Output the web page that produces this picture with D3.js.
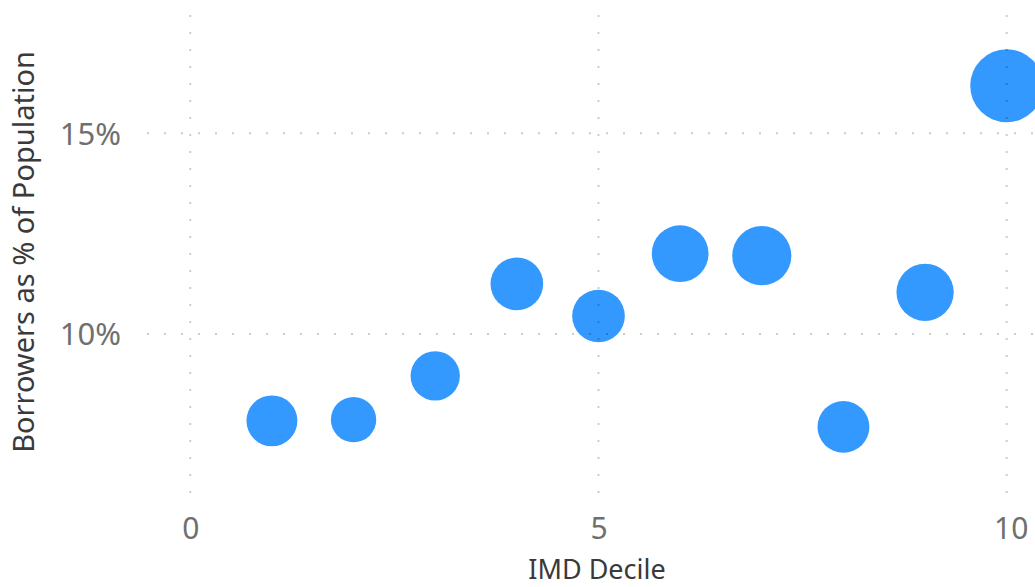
<!DOCTYPE html>
<html>
<head>
<meta charset="utf-8">
<script src="https://cdn.jsdelivr.net/npm/d3@7"></script>
<style>
  html, body { margin: 0; padding: 0; background: #ffffff; }
  svg { display: block; }
  text { font-family: "Noto Sans", "Open Sans", sans-serif; }
</style>
</head>
<body>
<svg id="chart" width="1035" height="587"></svg>
<script>
// ---- data ----
const deciles = [1, 2, 3, 4, 5, 6, 7, 8, 9, 10];
const borrowerShare = [0.0784, 0.0787, 0.0896, 0.1125, 0.1045, 0.1200, 0.1195, 0.0769, 0.1104, 0.1618];
const bubbleSize = [666, 529, 625, 713, 713, 829, 900, 692, 841, 1369];
const xTicks = [0, 5, 10];
const yTicks = [0.10, 0.15];
const xTitle = "IMD Decile";
const yTitle = "Borrowers as % of Population";

const W = 1035, H = 587;
const plot = { left: 147, right: 1050, top: 15, bottom: 494 };

const svg = d3.select("#chart");

const x = d3.scaleLinear().domain([-0.53, 10.53]).range([plot.left, plot.right]);
const y = d3.scaleLinear().domain([0.0602, 0.1794]).range([plot.bottom, plot.top]);
const r = d3.scaleSqrt().domain([0, d3.max(bubbleSize)]).range([0, 36.5]);

const points = deciles.map((d, i) => ({ x: d, y: borrowerShare[i], s: bubbleSize[i] }));

// bubbles
svg.append("g").selectAll("circle")
  .data(points)
  .join("circle")
  .attr("cx", d => x(d.x))
  .attr("cy", d => y(d.y))
  .attr("r", d => r(d.s))
  .attr("fill", "#3399ff");

// gridlines (drawn on top, faint dotted)
const grid = svg.append("g")
  .attr("stroke", "#000")
  .attr("stroke-opacity", 0.2)
  .attr("stroke-width", 2)
  .attr("stroke-dasharray", "2 15");

grid.selectAll("line.v")
  .data(xTicks)
  .join("line")
  .attr("class", "v")
  .attr("x1", d => x(d)).attr("x2", d => x(d))
  .attr("y1", plot.top).attr("y2", plot.bottom);

grid.selectAll("line.h")
  .data(yTicks)
  .join("line")
  .attr("class", "h")
  .attr("x1", plot.left).attr("x2", W)
  .attr("y1", d => y(d)).attr("y2", d => y(d));

// axes (tick labels only)
const xAxis = d3.axisBottom(x).tickValues(xTicks).tickSize(0).tickPadding(0).tickFormat(d3.format("d"));
const gx = svg.append("g").attr("transform", `translate(0,${plot.bottom + 45})`).call(xAxis);
gx.select(".domain").remove();
gx.selectAll("text")
  .attr("dy", 0)
  .attr("fill", "#6f6f6f")
  .style("font-size", "30px")
  .style("font-family", "'Noto Sans', 'Open Sans', sans-serif");
gx.selectAll(".tick").filter(d => d === 10).select("text").attr("dx", 4);

const yAxis = d3.axisLeft(y).tickValues(yTicks).tickSize(0).tickPadding(0).tickFormat(d3.format(".0%"));
const gy = svg.append("g").attr("transform", `translate(121,0)`).call(yAxis);
gy.select(".domain").remove();
gy.selectAll("text")
  .attr("dy", "0.35em")
  .attr("fill", "#6f6f6f")
  .style("font-size", "31px")
  .style("font-family", "'Noto Sans', 'Open Sans', sans-serif");

// axis titles
svg.append("text")
  .attr("x", 597).attr("y", 579)
  .attr("text-anchor", "middle")
  .attr("fill", "#3a3a3a")
  .style("font-size", "27px")
  .text(xTitle);

svg.append("text")
  .attr("transform", `translate(34,252) rotate(-90)`)
  .attr("text-anchor", "middle")
  .attr("fill", "#3a3a3a")
  .style("font-size", "29px")
  .text(yTitle);
</script>
</body>
</html>
